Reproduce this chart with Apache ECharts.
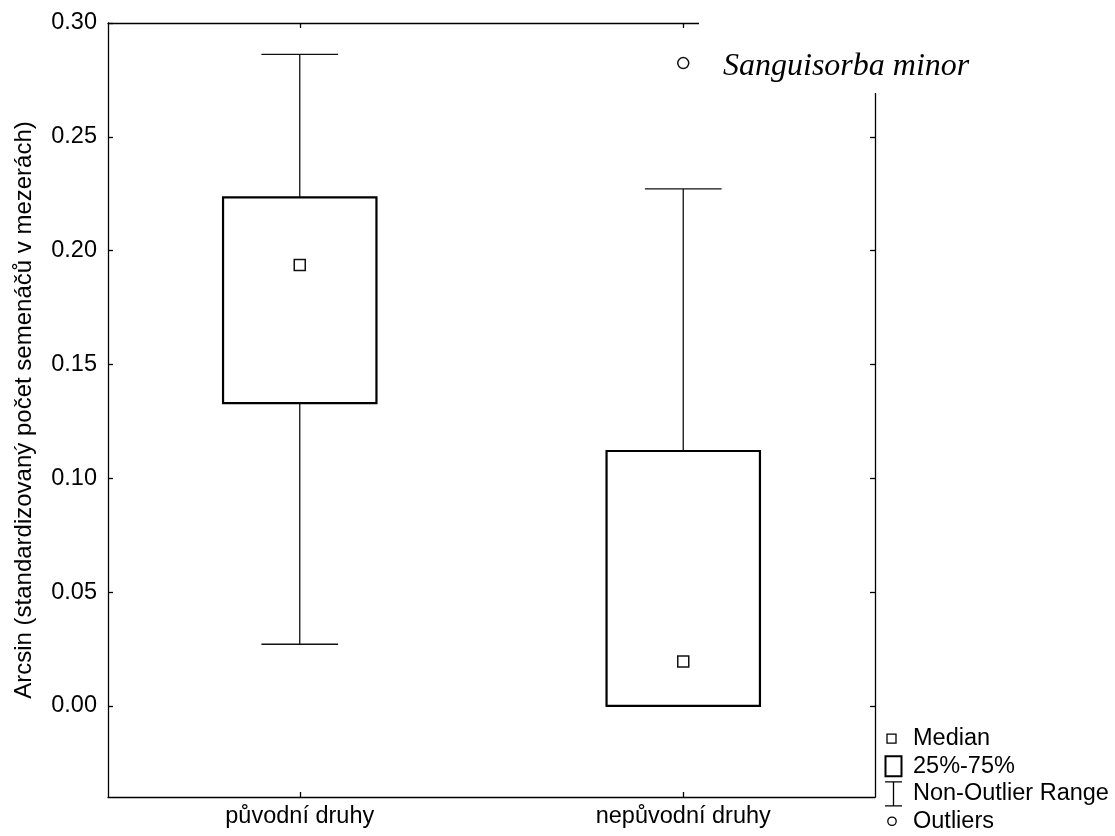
<!DOCTYPE html>
<html>
<head>
<meta charset="utf-8">
<script src="https://cdn.jsdelivr.net/npm/echarts@6/dist/echarts.min.js"></script>
<style>
  html, body { margin: 0; padding: 0; background: #fff; }
  #chart { width: 1115px; height: 836px; }
</style>
</head>
<body>
<div id="chart"></div>
<script>
// Box plot summary per group
const categories = ['původní druhy', 'nepůvodní druhy'];
const whiskerLow = [0.0271, 0.0];
const quartile1 = [0.1330, 0.0];
const medians = [0.1937, 0.0195];
const quartile3 = [0.2234, 0.1120];
const whiskerHigh = [0.2862, 0.2271];

// Outlying species
const outlierCategory = [1];
const outlierValues = [0.2824];
const outlierNames = ['Sanguisorba minor'];

// Axis text
const yTicks = [0, 0.05, 0.10, 0.15, 0.20, 0.25, 0.30];
const yTitle = 'Arcsin (standardizovaný počet semenáčů v mezerách)';
const legendNames = ['Median', '25%-75%', 'Non-Outlier Range', 'Outliers'];

const sans = 'Liberation Sans, Arial, sans-serif';
const ink = '#000';
const textSize = 23.5;

const boxRows = categories.map((c, i) => [i, whiskerLow[i], quartile1[i], quartile3[i], whiskerHigh[i]]);
const medianRows = categories.map((c, i) => [i, medians[i]]);
const outlierRows = outlierValues.map((v, i) => ({ value: [outlierCategory[i], v], name: outlierNames[i] }));

function renderWhisker(params, api) {
  const c = api.value(0);
  const half = api.size([1, 0])[0] * 0.1;
  const pLow = api.coord([c, api.value(1)]);
  const pQ1 = api.coord([c, api.value(2)]);
  const pQ3 = api.coord([c, api.value(3)]);
  const pHigh = api.coord([c, api.value(4)]);
  const style = { stroke: '#111', lineWidth: 1.3, fill: null };
  return {
    type: 'group',
    children: [
      { type: 'line', shape: { x1: pHigh[0], y1: pHigh[1], x2: pQ3[0], y2: pQ3[1] }, style },
      { type: 'line', shape: { x1: pLow[0], y1: pLow[1], x2: pQ1[0], y2: pQ1[1] }, style },
      { type: 'line', shape: { x1: pHigh[0] - half, y1: pHigh[1], x2: pHigh[0] + half, y2: pHigh[1] }, style },
      { type: 'line', shape: { x1: pLow[0] - half, y1: pLow[1], x2: pLow[0] + half, y2: pLow[1] }, style }
    ]
  };
}

function renderBox(params, api) {
  const c = api.value(0);
  const w = api.size([1, 0])[0] * 0.4;
  const pQ1 = api.coord([c, api.value(2)]);
  const pQ3 = api.coord([c, api.value(3)]);
  return {
    type: 'rect',
    shape: { x: pQ1[0] - w / 2, y: pQ3[1], width: w, height: pQ1[1] - pQ3[1] },
    style: { fill: '#fff', stroke: ink, lineWidth: 2.2 }
  };
}

const axisLine = { show: true, onZero: false, lineStyle: { color: ink, width: 1.3 } };
const tick = { show: true, inside: true, length: 5, lineStyle: { color: ink, width: 1.3 } };

const chart = echarts.init(document.getElementById('chart'), null, { renderer: 'canvas' });
chart.setOption({
  animation: false,
  backgroundColor: '#fff',
  grid: { left: 108, right: 240, top: 23, bottom: 39, outerBoundsMode: 'none' },
  xAxis: [
    {
      type: 'category', position: 'bottom', data: categories,
      axisLine, axisTick: Object.assign({ alignWithLabel: true }, tick),
      axisLabel: { fontSize: textSize, color: ink, fontFamily: sans, margin: 8 },
      splitLine: { show: false }
    },
    {
      type: 'category', position: 'top', data: categories,
      axisLine, axisTick: Object.assign({ alignWithLabel: true }, tick),
      axisLabel: { show: false }, splitLine: { show: false }
    }
  ],
  yAxis: [
    {
      type: 'value', position: 'left', min: -0.04, max: 0.30,
      axisLine, axisTick: Object.assign({ customValues: yTicks }, tick),
      axisLabel: { customValues: yTicks, formatter: v => v.toFixed(2), fontSize: textSize, color: ink, fontFamily: sans, margin: 11 },
      splitLine: { show: false },
      name: yTitle, nameLocation: 'middle', nameGap: 72,
      nameTextStyle: { fontSize: 24, color: ink, fontFamily: sans }
    },
    {
      type: 'value', position: 'right', min: -0.04, max: 0.30,
      axisLine, axisTick: Object.assign({ customValues: yTicks }, tick),
      axisLabel: { show: false }, splitLine: { show: false }
    }
  ],
  legend: {
    orient: 'vertical', left: 883, top: 725, height: 111, padding: 0,
    itemWidth: 24, itemHeight: 26, itemGap: 0,
    selectedMode: false,
    textStyle: { fontSize: textSize, color: ink, fontFamily: sans },
    data: [
      { name: legendNames[0], icon: 'path://M0 0M24 26M3 8.5H12V17.5H3Z',
        itemStyle: { color: '#fff', borderColor: ink, borderWidth: 1.3 } },
      { name: legendNames[1], icon: 'path://M0 0M24 26M1.5 3H17.5V23H1.5Z',
        itemStyle: { color: '#fff', borderColor: ink, borderWidth: 2 } },
      { name: legendNames[2], icon: 'path://M0 0M24 26M1 1H18M9.5 1V25M1 25H18',
        itemStyle: { color: '#fff', borderColor: ink, borderWidth: 1.3 } },
      { name: legendNames[3], icon: 'path://M0 0M24 26M3.8 13A4.2 4.2 0 1 0 12.2 13A4.2 4.2 0 1 0 3.8 13Z',
        itemStyle: { color: '#fff', borderColor: ink, borderWidth: 1.3 } }
    ]
  },
  series: [
    {
      name: legendNames[2], type: 'custom', z: 2,
      renderItem: renderWhisker, data: boxRows,
      encode: { x: 0, y: [1, 2, 3, 4] }
    },
    {
      name: legendNames[1], type: 'custom', z: 3,
      renderItem: renderBox, data: boxRows,
      encode: { x: 0, y: [1, 2, 3, 4] }
    },
    {
      name: legendNames[0], type: 'scatter', z: 4,
      symbol: 'rect', symbolSize: 11, data: medianRows,
      itemStyle: { color: '#fff', borderColor: '#111', borderWidth: 1.5, opacity: 1 }
    },
    {
      name: legendNames[3], type: 'scatter', z: 5,
      symbol: 'circle', symbolSize: 11, data: outlierRows,
      itemStyle: { color: '#fff', borderColor: '#111', borderWidth: 1.5, opacity: 1 },
      label: {
        show: true, position: 'right', distance: 9.5, offset: [0, -43],
        verticalAlign: 'top',
        formatter: '{b}',
        fontFamily: 'Liberation Serif, Times New Roman, serif', fontStyle: 'italic',
        fontSize: 32, lineHeight: 32, color: ink,
        backgroundColor: '#fff', padding: [30.5, 8, 10.5, 24]
      }
    }
  ]
});
</script>
</body>
</html>
